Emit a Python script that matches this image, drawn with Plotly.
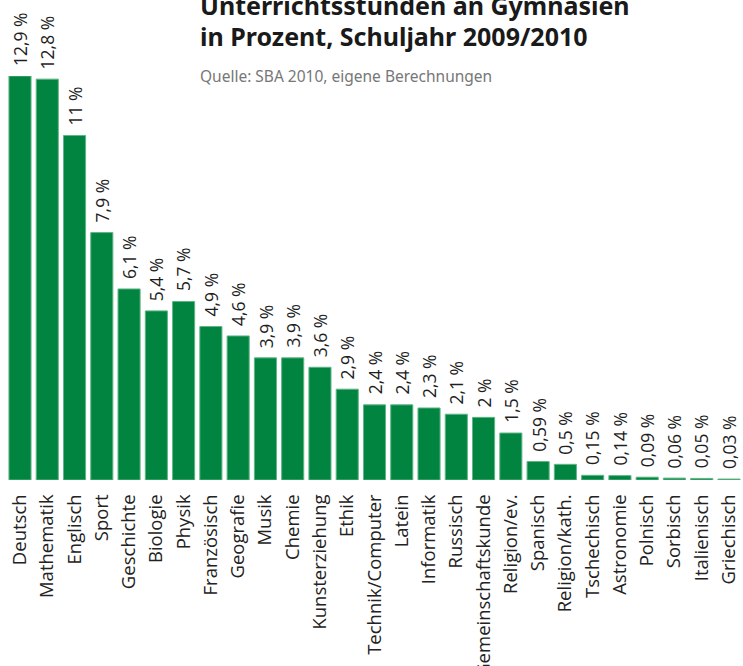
import plotly.graph_objects as go

# Anteil der Unterrichtsstunden je Fach (Prozent)
faecher = [
    "Deutsch", "Mathematik", "Englisch", "Sport", "Geschichte", "Biologie",
    "Physik", "Französisch", "Geografie", "Musik", "Chemie", "Kunsterziehung",
    "Ethik", "Technik/Computer", "Latein", "Informatik", "Russisch",
    "Gemeinschaftskunde", "Religion/ev.", "Spanisch", "Religion/kath.",
    "Tschechisch", "Astronomie", "Polnisch", "Sorbisch", "Italienisch", "Griechisch",
]
anteile = [
    12.9, 12.8, 11, 7.9, 6.1, 5.4, 5.7, 4.9, 4.6, 3.9, 3.9, 3.6, 2.9, 2.4, 2.4,
    2.3, 2.1, 2, 1.5, 0.59, 0.5, 0.15, 0.14, 0.09, 0.06, 0.05, 0.03,
]
beschriftung = [f"{v:g} %".replace(".", ",") for v in anteile]

titel_1 = "<b>Unterrichtsstunden an Gymnasien</b>"
titel_2 = "<b>in Prozent, Schuljahr 2009/2010</b>"
quelle = "Quelle: SBA 2010, eigene Berechnungen"

W, H = 743, 666
M_T, M_B, M_L, M_R = 76, 186, 6, 0
PLOT_H = H - M_T - M_B


def paper_y(px):
    """Pixel row from the top of the page -> paper coordinate."""
    return (H - M_B - px) / PLOT_H


TEXT_X = (198 - M_L) / (W - M_L - M_R)

fig = go.Figure(
    go.Bar(
        x=faecher,
        y=anteile,
        marker=dict(color="#00843f", line=dict(color="#5fb585", width=1)),
        hoverinfo="skip",
        cliponaxis=False,
    )
)

# Werte senkrecht über den Säulen
werte = [
    dict(
        x=f, y=v, xref="x", yref="y",
        text=t, textangle=-90,
        xanchor="center", yanchor="bottom", yshift=8,
        showarrow=False,
        font=dict(family="Open Sans", size=17.5, color="#1e1e1e"),
    )
    for f, v, t in zip(faecher, anteile, beschriftung)
]

kopf = [
    dict(
        text=titel_1, xref="paper", yref="paper",
        x=TEXT_X, y=paper_y(5), xanchor="left", yanchor="middle",
        showarrow=False, align="left",
        font=dict(family="Noto Sans", size=25, color="#1a1a1a"),
    ),
    dict(
        text=titel_2, xref="paper", yref="paper",
        x=TEXT_X, y=paper_y(36), xanchor="left", yanchor="middle",
        showarrow=False, align="left",
        font=dict(family="Noto Sans", size=25, color="#1a1a1a"),
    ),
    dict(
        text=quelle, xref="paper", yref="paper",
        x=TEXT_X, y=paper_y(76), xanchor="left", yanchor="middle",
        showarrow=False, align="left",
        font=dict(family="Noto Sans", size=15.5, color="#777777"),
    ),
]

fig.update_layout(
    width=W,
    height=H,
    margin=dict(l=M_L, r=M_R, t=M_T, b=M_B, autoexpand=False),
    paper_bgcolor="white",
    plot_bgcolor="white",
    bargap=0.19,
    showlegend=False,
    xaxis=dict(
        tickangle=-90,
        tickfont=dict(family="Open Sans", size=18.5, color="#222222"),
        showgrid=False,
        showline=False,
        ticks="outside",
        ticklen=6,
        tickcolor="rgba(0,0,0,0)",
        automargin=False,
        fixedrange=True,
    ),
    yaxis=dict(
        range=[0, 12.9],
        visible=False,
        showgrid=False,
        automargin=False,
        fixedrange=True,
    ),
    annotations=werte + kopf,
)

fig.write_html("out.html")
